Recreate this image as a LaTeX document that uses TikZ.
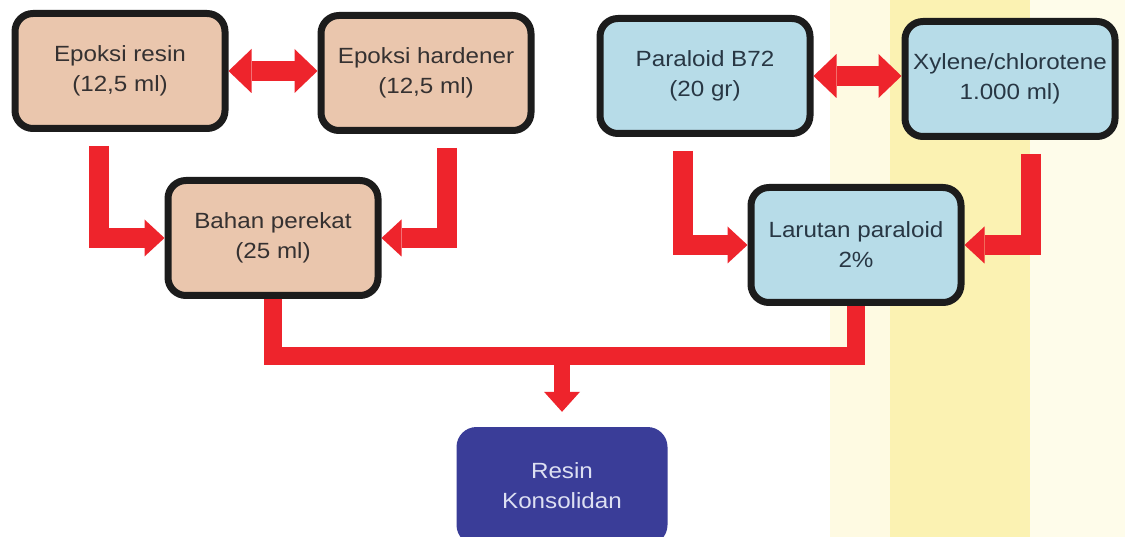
\documentclass[tikz,border=0pt]{standalone}
\usepackage{fontspec}
\setmainfont{Liberation Sans}[FakeStretch=1.1]
\usetikzlibrary{arrows.meta,calc}
\definecolor{tanfill}{HTML}{EAC6AD}
\definecolor{lblue}{HTML}{B7DCE8}
\definecolor{dblue}{HTML}{3A3D98}
\definecolor{fred}{HTML}{EE242C}
\definecolor{bord}{HTML}{1C1C1C}
\definecolor{ypale}{HTML}{FEFAE2}
\definecolor{ymid}{HTML}{FBF2B2}
\definecolor{ycream}{HTML}{FEFCEA}
\definecolor{txt}{HTML}{353131}
\definecolor{txtb}{HTML}{283744}
\definecolor{txtw}{HTML}{DDE0F2}
\begin{document}
\begin{tikzpicture}[x=1pt,y=-1pt,
  box/.style={draw=bord, line width=7pt, rounded corners=18pt,
    minimum width=210pt, minimum height=115pt, align=center, inner sep=0pt,
    font=\fontsize{22}{30}\selectfont, text=txt},
  tanbox/.style={box, fill=tanfill},
  bluebox/.style={box, fill=lblue, text=txtb},
  darkbox/.style={fill=dblue, draw=none, rounded corners=20pt,
    minimum width=211pt, minimum height=118pt, align=center, inner sep=0pt,
    font=\fontsize{22}{30}\selectfont, text=txtw},
  fatL/.style={draw=fred, line width=20pt, line join=miter,
    -{Triangle[width=37pt,length=20pt,line width=0pt]}},
  fatD/.style={draw=fred, line width=20pt,
    {Triangle[width=44pt,length=23pt,line width=0pt]}-{Triangle[width=44pt,length=23pt,line width=0pt]}},
  bar/.style={draw=fred, line width=18pt, line join=miter},
  downarr/.style={draw=fred, line width=16pt,
    -{Triangle[width=36pt,length=20pt,line width=0pt]}},
]
\useasboundingbox (0,0) rectangle (1125,537);
\fill[white] (0,0) rectangle (1125,537);
\fill[ypale] (830,0) rectangle (890,537);
\fill[ymid] (890,0) rectangle (1030,537);
\fill[ycream] (1030,0) rectangle (1125,537);

% nodes
\node[tanbox] (ER) at (120,71) {Epoksi resin\\(12,5 ml)};
\node[tanbox] (EH) at (426,73) {Epoksi hardener\\(12,5 ml)};
\node[tanbox] (BP) at (273,238) {Bahan perekat\\(25 ml)};
\node[bluebox] (PB) at (705,76) {Paraloid B72\\(20 gr)};
\node[bluebox] (XY) at (1010,79) {Xylene/chlorotene\\1.000 ml)};
\node[bluebox] (LP) at (856,245) {Larutan paraloid\\2\%};
\node[darkbox] (RK) at (562,486) {Resin\\Konsolidan};

% free ends
\coordinate (a1) at ($(ER.south)+(-21,14)$);
\coordinate (a2) at ($(EH.south)+(21,14)$);
\coordinate (a3) at ($(PB.south)+(-22,14)$);
\coordinate (a4) at ($(XY.south)+(21,14)$);
\coordinate (hb) at (0,356);
\coordinate (dt) at ($(RK.north)+(0,-15)$);

% connectors
\draw[fatD] (ER.east) -- (ER.east -| EH.west);
\draw[fatD] (PB.east) -- (PB.east -| XY.west);
\draw[fatL] (a1) |- (BP.west);
\draw[fatL] (a2) |- (BP.east);
\draw[fatL] (a3) |- (LP.west);
\draw[fatL] (a4) |- (LP.east);
\draw[bar] (BP.south) -- (BP.south |- hb) -- (LP.south |- hb) -- (LP.south);
\draw[downarr] (RK.north |- hb) -- (dt);
\end{tikzpicture}
\end{document}
